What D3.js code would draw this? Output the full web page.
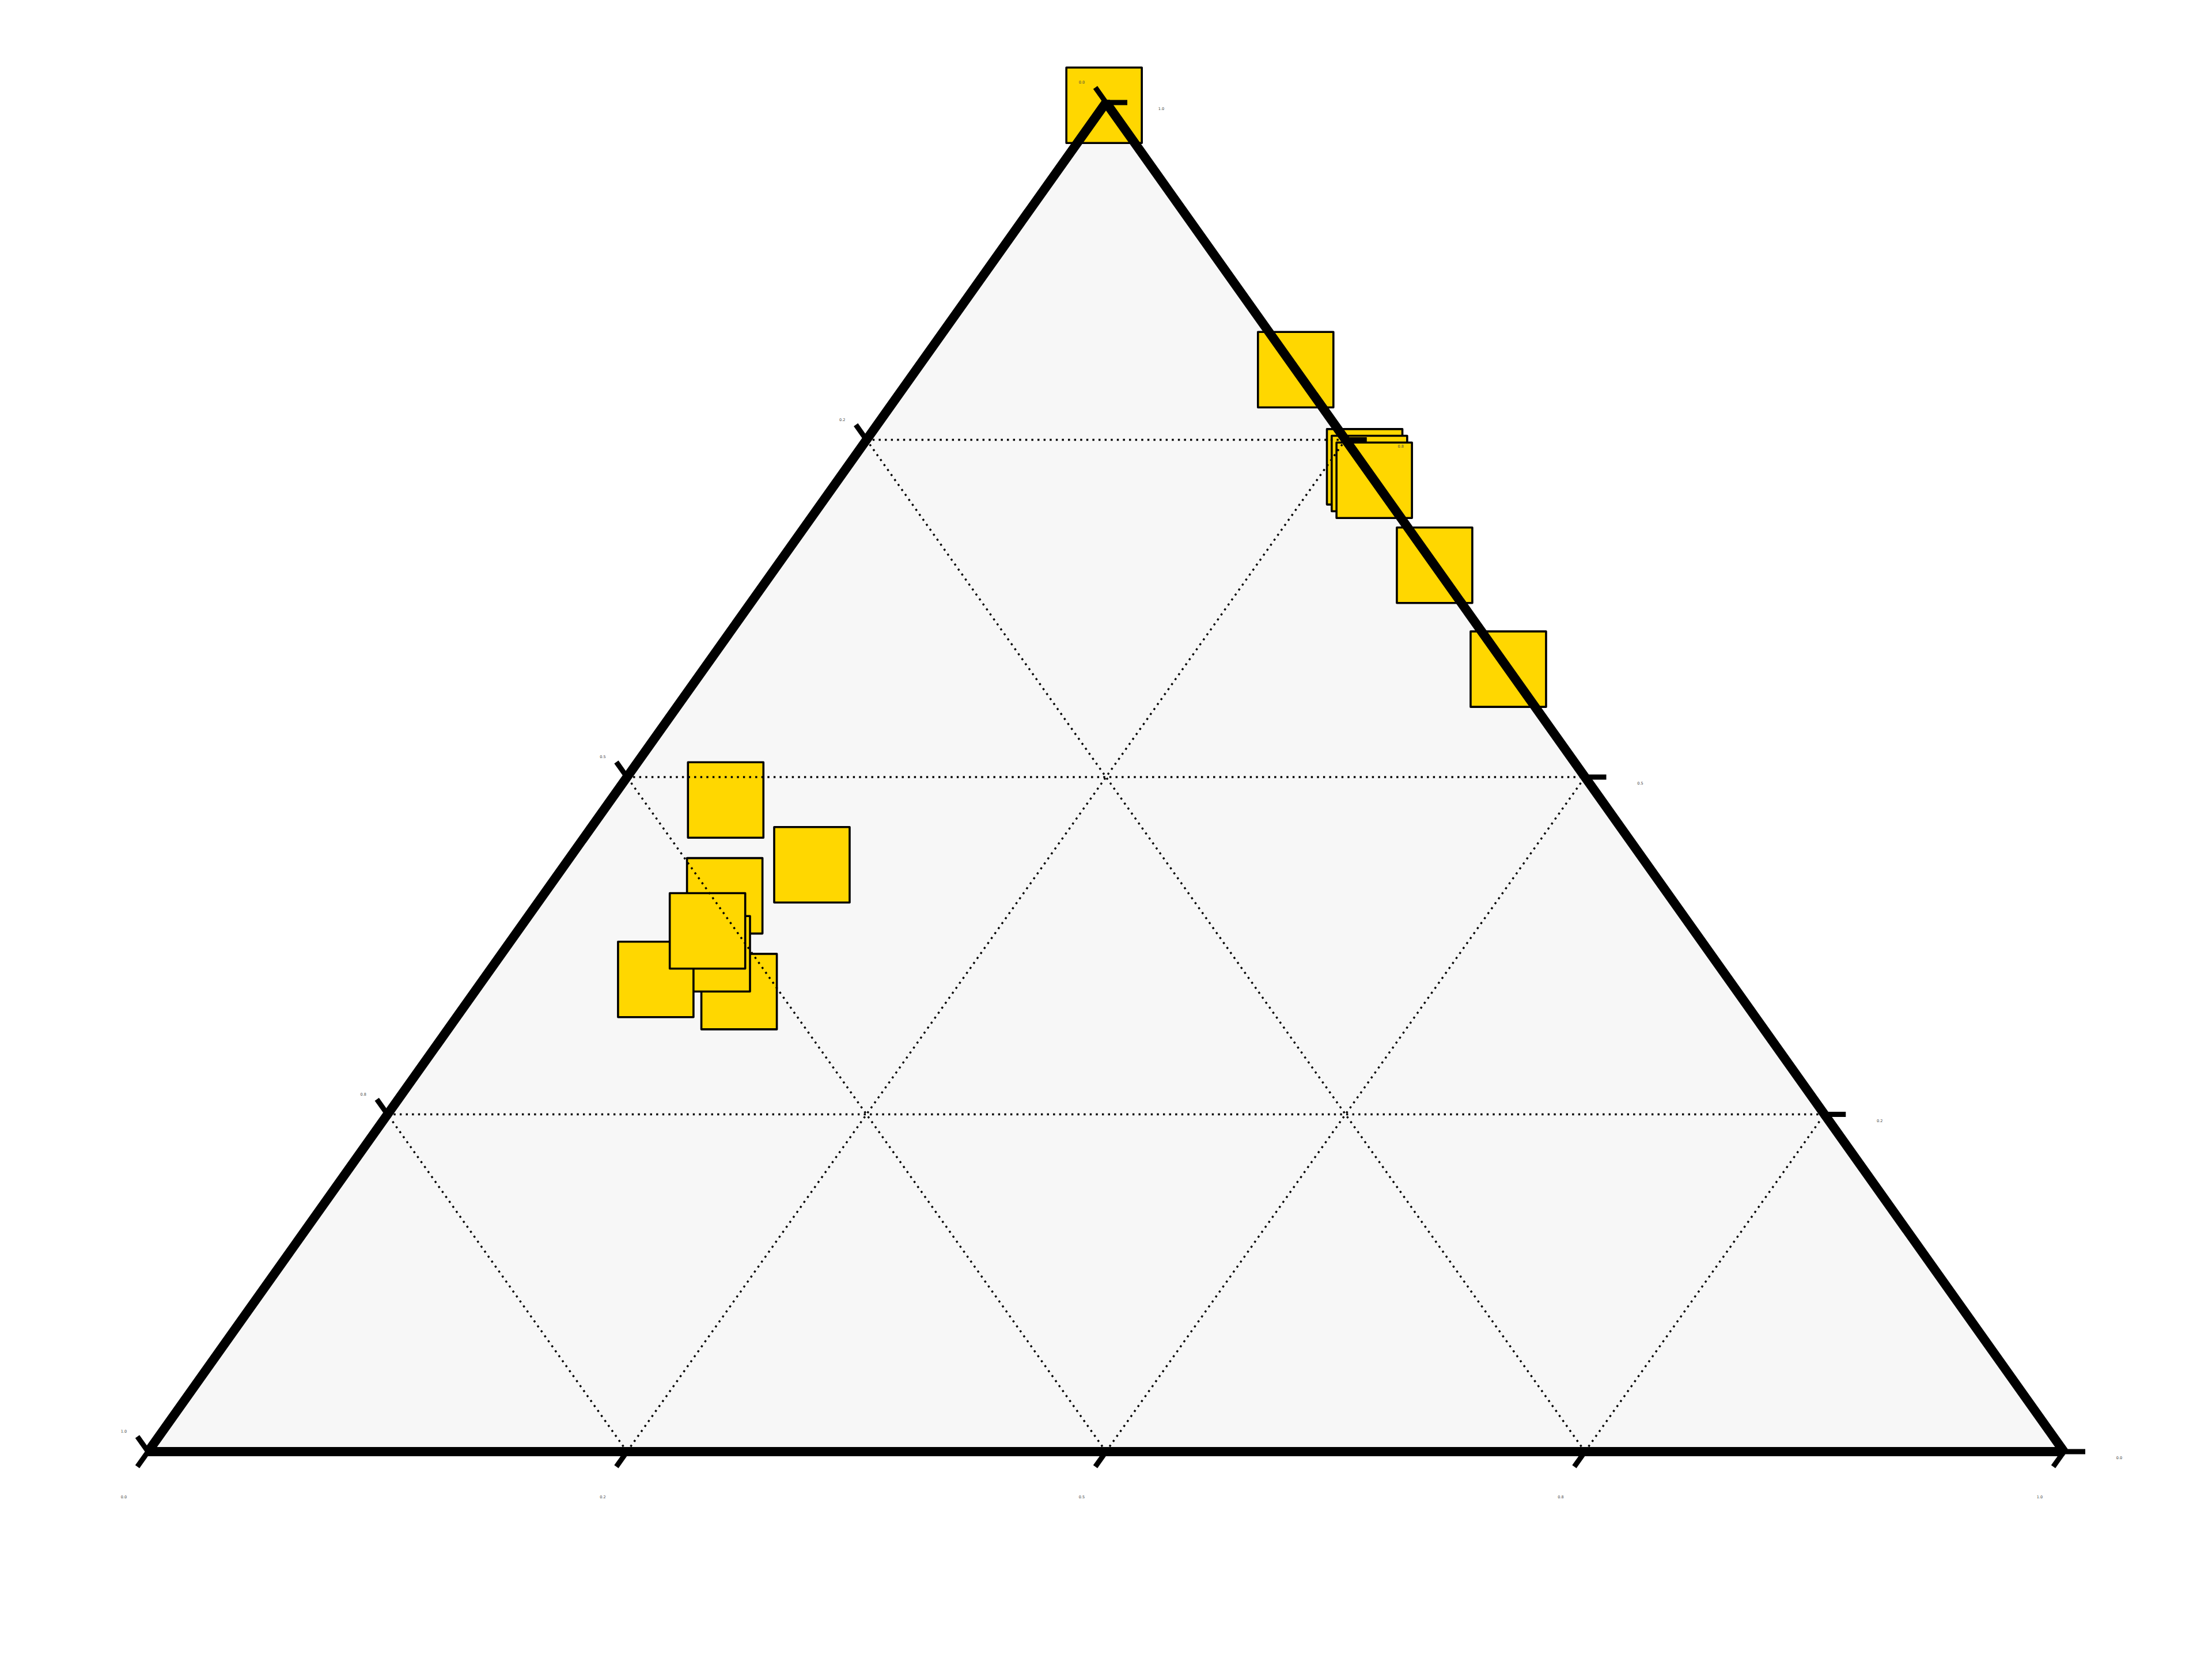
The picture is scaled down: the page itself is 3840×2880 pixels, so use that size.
<!DOCTYPE html>
<html>
<head>
<meta charset="utf-8">
<script src="https://cdn.jsdelivr.net/npm/d3@7"></script>
<style>
  html, body { margin: 0; padding: 0; background: #ffffff; }
  svg { display: block; }
</style>
</head>
<body>
<script>
// ---- data (ternary fractions: top, right, left) ----
const topVals   = [0.998, 0.802, 0.730, 0.725, 0.720, 0.657, 0.580,
                   0.483, 0.435, 0.412, 0.341, 0.369, 0.350, 0.386];
const rightVals = [0.000, 0.198, 0.270, 0.275, 0.280, 0.343, 0.420,
                   0.060, 0.129, 0.095, 0.138, 0.110, 0.090, 0.099];
const leftVals  = topVals.map((t, i) => +(1 - t - rightVals[i]).toFixed(3));

const tickValues = [0, 0.25, 0.5, 0.75, 1.0];
const tickLabels = ["0.0", "0.2", "0.5", "0.8", "1.0"];
const gridValues = [0.25, 0.5, 0.75];

// ---- layout ----
const W = 3840, H = 2880;
const svg = d3.select("body").append("svg").attr("width", W).attr("height", H);

const xScale = d3.scaleLinear().domain([0, 1]).range([257, 3583]);
const yScale = d3.scaleLinear().domain([0, 1]).range([2520, 178]);

// project (top, right) -> pixel
function proj(t, r) { return [xScale(r + t / 2), yScale(t)]; }

const BL = proj(0, 0), BR = proj(0, 1), TP = proj(1, 0);

// triangle fill
svg.append("path")
  .attr("d", `M${BL}L${BR}L${TP}Z`)
  .attr("fill", "#f7f7f7");

// markers (below grid and axes)
const pts = topVals.map((t, i) => ({ t, r: rightVals[i], l: leftVals[i] }));
const S = 131;
svg.append("g").selectAll("rect").data(pts).join("rect")
  .attr("x", d => proj(d.t, d.r)[0] - S / 2)
  .attr("y", d => proj(d.t, d.r)[1] - S / 2)
  .attr("width", S).attr("height", S)
  .attr("fill", "#ffd700")
  .attr("stroke", "#000").attr("stroke-width", 3.6)
  .attr("stroke-linejoin", "round");

// grid lines (dotted)
const grid = svg.append("g")
  .attr("stroke", "#000").attr("stroke-width", 3.4)
  .attr("stroke-dasharray", "3.4 7.2").attr("fill", "none");
gridValues.forEach(v => {
  // constant top
  let a = proj(v, 0), b = proj(v, 1 - v);
  grid.append("line").attr("x1", a[0]).attr("y1", a[1]).attr("x2", b[0]).attr("y2", b[1]);
  // constant right
  a = proj(0, v); b = proj(1 - v, v);
  grid.append("line").attr("x1", a[0]).attr("y1", a[1]).attr("x2", b[0]).attr("y2", b[1]);
  // constant left (l = v): r = 1 - v - t
  a = proj(0, 1 - v); b = proj(1 - v, 0);
  grid.append("line").attr("x1", a[0]).attr("y1", a[1]).attr("x2", b[0]).attr("y2", b[1]);
});

// axes edges
svg.append("path")
  .attr("d", `M${BL}L${BR}L${TP}Z`)
  .attr("fill", "none").attr("stroke", "#000").attr("stroke-width", 16)
  .attr("stroke-linejoin", "bevel");

// tick directions
function unit(a, b) { const dx = b[0] - a[0], dy = b[1] - a[1]; const n = Math.hypot(dx, dy); return [dx / n, dy / n]; }
const dirBottom = unit(TP, BL);   // down-left, parallel to left edge
const dirLeft = unit(BR, TP);     // up-left, parallel to right edge
const dirRight = [1, 0];

const ticks = svg.append("g").attr("stroke", "#000").attr("stroke-width", 9).attr("fill", "none");
const labels = svg.append("g")
  .attr("font-family", "DejaVu Sans, sans-serif").attr("font-size", 6.5)
  .attr("fill", "#444").attr("text-anchor", "middle").attr("dominant-baseline", "central");

tickValues.forEach((v, i) => {
  // bottom axis: right component
  let p = proj(0, v);
  ticks.append("line").attr("x1", p[0]).attr("y1", p[1])
    .attr("x2", p[0] + dirBottom[0] * 32).attr("y2", p[1] + dirBottom[1] * 32);
  labels.append("text").attr("x", p[0] - 42).attr("y", p[1] + 79).text(tickLabels[i]);

  // left axis: left component (l = v on left edge: r = 0, t = 1 - v)
  p = proj(1 - v, 0);
  ticks.append("line").attr("x1", p[0]).attr("y1", p[1])
    .attr("x2", p[0] + dirLeft[0] * 32).attr("y2", p[1] + dirLeft[1] * 32);
  labels.append("text").attr("x", p[0] - 42).attr("y", p[1] - 35).text(tickLabels[i]);

  // right axis: top component (on right edge: l = 0, r = 1 - v)
  p = proj(v, 1 - v);
  ticks.append("line").attr("x1", p[0]).attr("y1", p[1])
    .attr("x2", p[0] + dirRight[0] * 37).attr("y2", p[1]);
  labels.append("text").attr("x", p[0] + 96).attr("y", p[1] + 11).text(tickLabels[i]);
});
</script>
</body>
</html>
